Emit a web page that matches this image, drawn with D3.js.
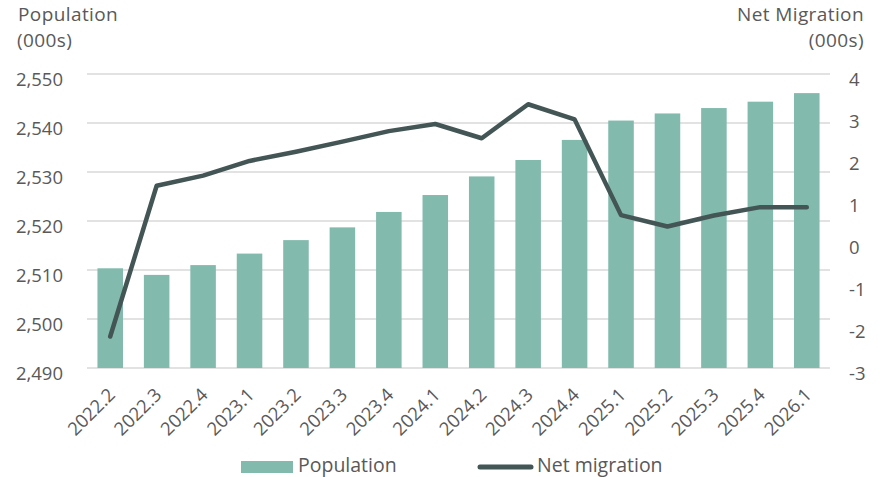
<!DOCTYPE html>
<html>
<head>
<meta charset="utf-8">
<script src="https://cdn.jsdelivr.net/npm/d3@7"></script>
<style>
  html, body { margin: 0; padding: 0; background: #fff; }
  svg { display: block; }
  text { font-family: "Open Sans", sans-serif; fill: #595959; }
</style>
</head>
<body>
<svg id="chart" width="894" height="477"></svg>
<script>
const categories = ["2022.2","2022.3","2022.4","2023.1","2023.2","2023.3","2023.4","2024.1","2024.2","2024.3","2024.4","2025.1","2025.2","2025.3","2025.4","2026.1"];
const population = [2510.35, 2509.0, 2511.0, 2513.35, 2516.1, 2518.7, 2521.85, 2525.3, 2529.1, 2532.45, 2536.55, 2540.5, 2541.95, 2543.05, 2544.35, 2546.1];
const netMigration = [-2.25, 1.34, 1.58, 1.93, 2.15, 2.39, 2.64, 2.81, 2.47, 3.28, 2.92, 0.64, 0.37, 0.63, 0.83, 0.83];
const leftTicks = [2490, 2500, 2510, 2520, 2530, 2540, 2550];
const rightTicks = [-3, -2, -1, 0, 1, 2, 3, 4];

const svg = d3.select("#chart");
const plot = { left: 87, right: 830, top: 74, bottom: 368 };

const x = d3.scaleBand().domain(categories).range([plot.left, plot.right]).paddingInner(0.45).paddingOuter(0.225);
const yL = d3.scaleLinear().domain([2490, 2550]).range([plot.bottom, plot.top]);
const yR = d3.scaleLinear().domain([-3, 4]).range([plot.bottom, plot.top]);

// gridlines
svg.append("g")
  .selectAll("line").data(leftTicks).join("line")
  .attr("x1", plot.left).attr("x2", plot.right)
  .attr("y1", d => yL(d)).attr("y2", d => yL(d))
  .attr("stroke", "#d9d9d9").attr("stroke-width", 1.3);

// bars
svg.append("g")
  .selectAll("rect").data(categories).join("rect")
  .attr("x", d => x(d))
  .attr("width", x.bandwidth())
  .attr("y", (d, i) => yL(population[i]))
  .attr("height", (d, i) => yL(2490) - yL(population[i]))
  .attr("fill", "#82bbad");

// line
const line = d3.line()
  .x((d, i) => x(categories[i]) + x.bandwidth() / 2)
  .y(d => yR(d));
svg.append("path")
  .datum(netMigration)
  .attr("d", line)
  .attr("fill", "none")
  .attr("stroke", "#435555")
  .attr("stroke-width", 4.5)
  .attr("stroke-linejoin", "round")
  .attr("stroke-linecap", "round");

// left axis
const leftAxis = d3.axisLeft(yL).tickValues(leftTicks).tickSize(0).tickPadding(0).tickFormat(d3.format(","));
const gL = svg.append("g").attr("transform", "translate(63,0)").call(leftAxis);
gL.select(".domain").remove();
gL.selectAll("text").attr("font-size", 18.5).attr("dy", "0.6em").style("font-family", "'Open Sans', sans-serif").attr("fill", "#595959");

// right axis
const rightAxis = d3.axisRight(yR).tickValues(rightTicks).tickSize(0).tickPadding(0).tickFormat(d3.format("d"));
const gR = svg.append("g").attr("transform", "translate(849,0)").call(rightAxis);
gR.select(".domain").remove();
gR.selectAll("text").attr("font-size", 18.5).attr("dy", "0.6em").style("font-family", "'Open Sans', sans-serif").attr("fill", "#595959")
  .text(d => d < 0 ? "-" + Math.abs(d) : String(d));

// x axis labels
const xAxis = d3.axisBottom(x).tickSize(0).tickPadding(0);
const gX = svg.append("g").attr("transform", "translate(0," + plot.bottom + ")").call(xAxis);
gX.select(".domain").remove();
gX.selectAll("text")
  .attr("font-size", 18.5)
  .attr("text-anchor", "end")
  .attr("dy", 0)
  .attr("y", 0)
  .attr("transform", "translate(6,28) rotate(-45)")
  .style("font-family", "'Open Sans', sans-serif").attr("fill", "#595959");

// titles
const titleStyle = sel => sel.attr("font-size", 19).attr("letter-spacing", 0.4);
svg.append("text").call(titleStyle).attr("x", 18).attr("y", 21).text("Population");
svg.append("text").call(titleStyle).attr("x", 17).attr("y", 47).text("(000s)");
svg.append("text").call(titleStyle).attr("text-anchor", "end").attr("x", 864).attr("y", 21).text("Net Migration");
svg.append("text").call(titleStyle).attr("text-anchor", "end").attr("x", 864).attr("y", 47).text("(000s)");

// legend
const lg = svg.append("g");
lg.append("rect").attr("x", 241).attr("y", 461).attr("width", 52).attr("height", 12).attr("fill", "#82bbad");
lg.append("text").attr("x", 298).attr("y", 472).attr("font-size", 19.5).text("Population");
lg.append("line").attr("x1", 480).attr("x2", 531).attr("y1", 467).attr("y2", 467)
  .attr("stroke", "#435555").attr("stroke-width", 5).attr("stroke-linecap", "round");
lg.append("text").attr("x", 537).attr("y", 472).attr("font-size", 19.5).text("Net migration");
</script>
</body>
</html>
